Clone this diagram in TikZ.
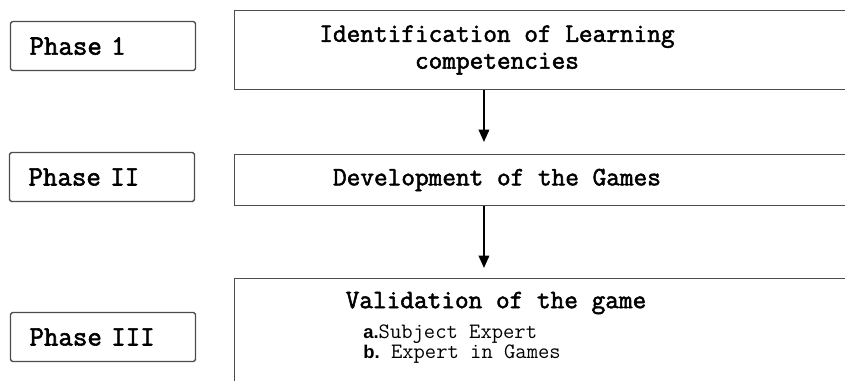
\documentclass[tikz,border=0pt]{standalone}
\usepackage{fontspec}
\setsansfont{Liberation Sans}
\setmonofont{Latin Modern Mono}[AutoFakeBold=2]
\usepackage{xcolor}
\usepackage{tikz}
\usetikzlibrary{positioning,arrows.meta}

\begin{document}
\begin{tikzpicture}[x=0.02cm, y=-0.02cm,
				phasebox/.style={draw=black!70, line width=0.8pt, rectangle, rounded corners=1pt,
						minimum width=3.7cm, minimum height=0.98cm, inner xsep=0.38cm,
						text width=2.94cm, align=left,
						font=\ttfamily\bfseries\fontsize{16}{18}\selectfont},
				stepbox/.style={draw=black!70, line width=0.8pt, rectangle,
						minimum width=13.5cm, anchor=north west},
				titletxt/.style={align=center, inner sep=0pt,
						font=\ttfamily\bfseries\fontsize{15.1}{15.3}\selectfont},
				subtxt/.style={anchor=west, inner sep=0pt,
						font=\ttfamily\fontsize{12.5}{12}\selectfont},
				ar/.style={-{Triangle[length=7pt, width=6pt]}, line width=0.9pt},
			]
			\useasboundingbox (0,0) rectangle (845,380);
			% phase labels
			\node[phasebox] (ph1)   at (103, 46)  {Phase 1};
			\node[phasebox] (ph2)   at (102, 177) {Phase II};
			\node[phasebox] (ph3)   at (103, 337) {Phase III};
			% steps
			\node[stepbox, minimum height=1.58cm] (idbox)  at (234, 10)  {};
			\node[titletxt] (idtext) at (497, 50)
			{Identification of Learning\\competencies};
			\node[stepbox, minimum height=1.02cm] (devbox) at (234, 154) {};
			\node[titletxt] (devtext) at (497, 180) {Development of the Games};
			\node[stepbox, minimum height=3cm] (valbox) at (234, 278) {};
			\node[titletxt] (valtext) at (496, 303) {Validation of the game};
			\node[subtxt] (suba) at (363, 334)
			{{\sffamily\bfseries\fontsize{10.5}{12}\selectfont a.}Subject Expert};
			\node[subtxt] (subb) at (363, 354)
			{{\sffamily\bfseries\fontsize{10.5}{12}\selectfont b.} Expert in Games};
			\draw[ar, shorten >=0.24cm] ([xshift=5.0cm]idbox.south west) -- ([xshift=5.0cm]devbox.north west);
			\draw[ar, shorten >=0.2cm]  ([xshift=5.0cm]devbox.south west) -- ([xshift=5.0cm]valbox.north west);
		\end{tikzpicture}
\end{document}
